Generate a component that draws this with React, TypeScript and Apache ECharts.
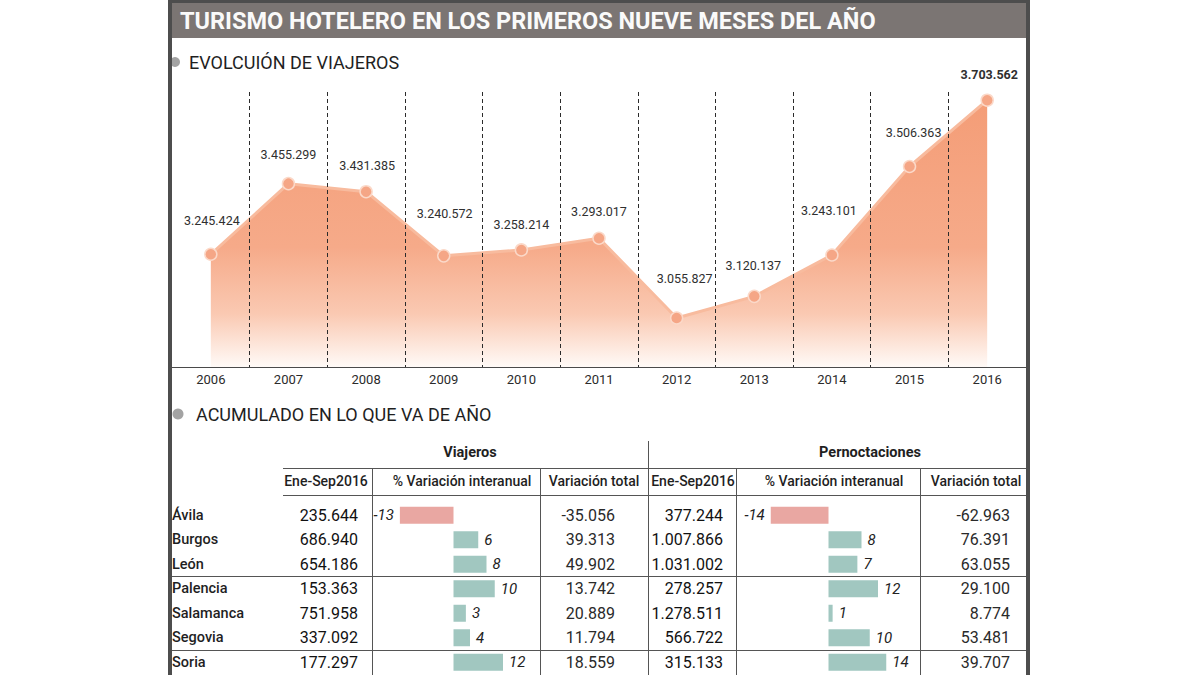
import React, { useEffect, useRef } from 'react';
import * as echarts from 'echarts';

// Travellers in hotels, January–September of each year
const years = ['2006', '2007', '2008', '2009', '2010', '2011', '2012', '2013', '2014', '2015', '2016'];
const viajerosTotal = [3245424, 3455299, 3431385, 3240572, 3258214, 3293017, 3055827, 3120137, 3243101, 3506363, 3703562];

// Accumulated figures by province
const provincias = ['Ávila', 'Burgos', 'León', 'Palencia', 'Salamanca', 'Segovia', 'Soria'];
const viajerosEneSep = [235644, 686940, 654186, 153363, 751958, 337092, 177297];
const viajerosVarPct = [-13, 6, 8, 10, 3, 4, 12];
const viajerosVarTotal = [-35056, 39313, 49902, 13742, 20889, 11794, 18559];
const pernoctEneSep = [377244, 1007866, 1031002, 278257, 1278511, 566722, 315133];
const pernoctVarPct = [-14, 8, 7, 12, 1, 10, 14];
const pernoctVarTotal = [-62963, 76391, 63055, 29100, 8774, 53481, 39707];

// Nudges for the value labels above each point of the line [dx, dy]
const labelShift: [number, number][] = [
  [1, -15], [0, -11], [1, -8], [1, -24], [0, -7], [0, -8],
  [8, -21], [-1, -13], [-3, -26], [4, -16], [2, -7],
];

const FONT = 'Roboto, "Noto Sans", "DejaVu Sans", sans-serif';
const POS = '#a1c7c0';
const NEG = '#e9a7a2';
const INK = '#1f1f1f';
const RULE = '#555555';

const fmt = (n: number) => {
  const s = Math.abs(n).toString().replace(/\B(?=(\d{3})+(?!\d))/g, '.');
  return (n < 0 ? '-' : '') + s;
};

const catAxis = (gridIndex: number, extra: any) => ({
  type: 'category',
  gridIndex,
  data: provincias,
  inverse: true,
  axisLine: { show: false },
  axisTick: { show: false },
  splitLine: { show: false },
  ...extra,
});

const barSeries = (xAxisIndex: number, yAxisIndex: number, values: number[]) => ({
  type: 'bar',
  xAxisIndex,
  yAxisIndex,
  barWidth: 17,
  data: values.map((v) => ({ value: v, itemStyle: { color: v < 0 ? NEG : POS } })),
  label: {
    show: true,
    position: 'outside',
    distance: 6,
    fontStyle: 'italic',
    fontSize: 15,
    fontFamily: FONT,
    color: '#222',
    formatter: (p: any) => String(p.value),
  },
});

const hLine = (x1: number, x2: number, y: number, w = 1) => ({
  type: 'line',
  shape: { x1, y1: y, x2, y2: y },
  style: { stroke: RULE, lineWidth: w },
  z: 10,
});
const vLine = (x: number, y1: number, y2: number) => ({
  type: 'line',
  shape: { x1: x, y1, x2: x, y2 },
  style: { stroke: RULE, lineWidth: 1 },
  z: 10,
});
const txt = (x: number, y: number, text: string, font: string, align = 'left', fill = INK, z = 20) => ({
  type: 'text',
  x,
  y,
  style: { text, font, fill, align, verticalAlign: 'middle' },
  z,
});

export default function App() {
  const ref = useRef<HTMLDivElement>(null);

  useEffect(() => {
    if (!ref.current) return;
    const chart = echarts.init(ref.current, undefined, { renderer: 'svg' });

    const headFont = `500 14px ${FONT}`;
    const titleFont = `bold 14.5px ${FONT}`;

    const option: any = {
      animation: false,
      backgroundColor: '#ffffff',
      textStyle: { fontFamily: FONT },
      grid: [
        { left: 172, right: 174, top: 92, bottom: 308 },
        { left: 371, width: 165, top: 503, height: 171.5 },
        { left: 746, width: 165, top: 503, height: 171.5 },
      ],
      xAxis: [
        {
          type: 'category',
          gridIndex: 0,
          data: years,
          boundaryGap: true,
          z: 5,
          axisLine: { lineStyle: { color: '#4a4a4a', width: 1 } },
          axisTick: { show: false },
          axisLabel: { color: '#2b2b2b', fontSize: 13, margin: 6, interval: 0, fontFamily: FONT },
          splitLine: {
            show: true,
            interval: 0,
            showMinLine: false,
            showMaxLine: false,
            lineStyle: { color: '#2b2b2b', type: [4, 3], width: 1 },
          },
        },
        { type: 'value', gridIndex: 1, min: -20, max: 20, show: false },
        { type: 'value', gridIndex: 2, min: -20, max: 20, show: false },
      ],
      yAxis: [
        { type: 'value', gridIndex: 0, min: 2910000, max: 3728000, show: false },
        // Viajeros: province names, Ene-Sep figures, total variation
        catAxis(1, {
          position: 'left',
          axisLabel: { interval: 0, align: 'left', margin: 199, fontSize: 14.5, fontWeight: 500, color: INK, fontFamily: FONT },
        }),
        catAxis(1, {
          position: 'left',
          axisLabel: {
            interval: 0, margin: 13, fontSize: 16, color: '#111', fontFamily: FONT,
            formatter: (_v: string, i: number) => fmt(viajerosEneSep[i]),
          },
        }),
        catAxis(1, {
          position: 'right',
          axisLabel: {
            interval: 0, align: 'right', margin: 79, fontSize: 16, color: '#2a2a2a', fontFamily: FONT,
            formatter: (_v: string, i: number) => fmt(viajerosVarTotal[i]),
          },
        }),
        // Pernoctaciones: Ene-Sep figures, total variation
        catAxis(2, {
          position: 'left',
          axisLabel: {
            interval: 0, margin: 23, fontSize: 16, color: '#111', fontFamily: FONT,
            formatter: (_v: string, i: number) => fmt(pernoctEneSep[i]),
          },
        }),
        catAxis(2, {
          position: 'right',
          axisLabel: {
            interval: 0, align: 'right', margin: 99, fontSize: 16, color: '#2a2a2a', fontFamily: FONT,
            formatter: (_v: string, i: number) => fmt(pernoctVarTotal[i]),
          },
        }),
      ],
      series: [
        {
          type: 'line',
          xAxisIndex: 0,
          yAxisIndex: 0,
          data: viajerosTotal.map((v, i) => ({
            value: v,
            label: {
              offset: labelShift[i],
              fontWeight: i === viajerosTotal.length - 1 ? 'bold' : 'normal',
            },
          })),
          symbol: 'circle',
          symbolSize: 12,
          itemStyle: { color: '#f5a686', borderColor: '#fbd9c9', borderWidth: 1.5 },
          lineStyle: { color: '#f8bb9e', width: 3 },
          areaStyle: {
            color: new echarts.graphic.LinearGradient(0, 0, 0, 1, [
              { offset: 0, color: '#f49d77' },
              { offset: 0.55, color: '#f6aa89' },
              { offset: 0.8, color: '#fac9b2' },
              { offset: 1, color: '#fffaf7' },
            ]),
            opacity: 1,
          },
          label: {
            show: true,
            position: 'top',
            distance: 5,
            fontSize: 12.5,
            fontFamily: FONT,
            color: '#2f2f2f',
            formatter: (p: any) => fmt(p.value),
          },
          z: 2,
        },
        barSeries(1, 1, viajerosVarPct),
        barSeries(2, 4, pernoctVarPct),
      ],
      graphic: [
        // frame and title band
        { type: 'rect', shape: { x: 172, y: 3, width: 854, height: 35 }, style: { fill: '#7b7573' }, z: 50 },
        { type: 'rect', shape: { x: 168, y: 0, width: 4, height: 675 }, style: { fill: '#4d4d4d' }, z: 100 },
        { type: 'rect', shape: { x: 1026, y: 0, width: 4, height: 675 }, style: { fill: '#4d4d4d' }, z: 100 },
        { type: 'rect', shape: { x: 168, y: 0, width: 862, height: 3 }, style: { fill: '#4d4d4d' }, z: 100 },
        txt(180, 21, 'TURISMO HOTELERO EN LOS PRIMEROS NUEVE MESES DEL AÑO', `bold 23.5px ${FONT}`, 'left', '#fafafa', 60),

        // section headings
        { type: 'circle', shape: { cx: 175, cy: 62, r: 5 }, style: { fill: '#a3a3a3' }, z: 20 },
        txt(189, 62, 'EVOLCUIÓN DE VIAJEROS', `18px ${FONT}`),
        { type: 'circle', shape: { cx: 178, cy: 414, r: 5.5 }, style: { fill: '#a3a3a3' }, z: 20 },
        txt(196, 414, 'ACUMULADO EN LO QUE VA DE AÑO', `18px ${FONT}`),

        // table headings
        txt(470, 452, 'Viajeros', titleFont, 'center'),
        txt(870, 452, 'Pernoctaciones', titleFont, 'center'),
        txt(326, 481, 'Ene-Sep2016', headFont, 'center'),
        txt(462, 481, '% Variación interanual', headFont, 'center'),
        txt(594, 481, 'Variación total', headFont, 'center'),
        txt(693, 481, 'Ene-Sep2016', headFont, 'center'),
        txt(834, 481, '% Variación interanual', headFont, 'center'),
        txt(976, 481, 'Variación total', headFont, 'center'),

        // table rules
        hLine(283, 1026, 468.5, 1.2),
        hLine(283, 1026, 495.5, 1.2),
        hLine(172, 1026, 576.5),
        hLine(172, 1026, 650.5),
        vLine(372.5, 468, 675),
        vLine(540.5, 468, 675),
        vLine(648.5, 441, 675),
        vLine(736.5, 468, 675),
        vLine(920.5, 468, 675),
      ],
    };

    chart.setOption(option);
    return () => chart.dispose();
  }, []);

  return (
    <div
      ref={ref}
      style={{ position: 'absolute', left: 0, top: 0, width: 1200, height: 675, background: '#fff' }}
    />
  );
}
